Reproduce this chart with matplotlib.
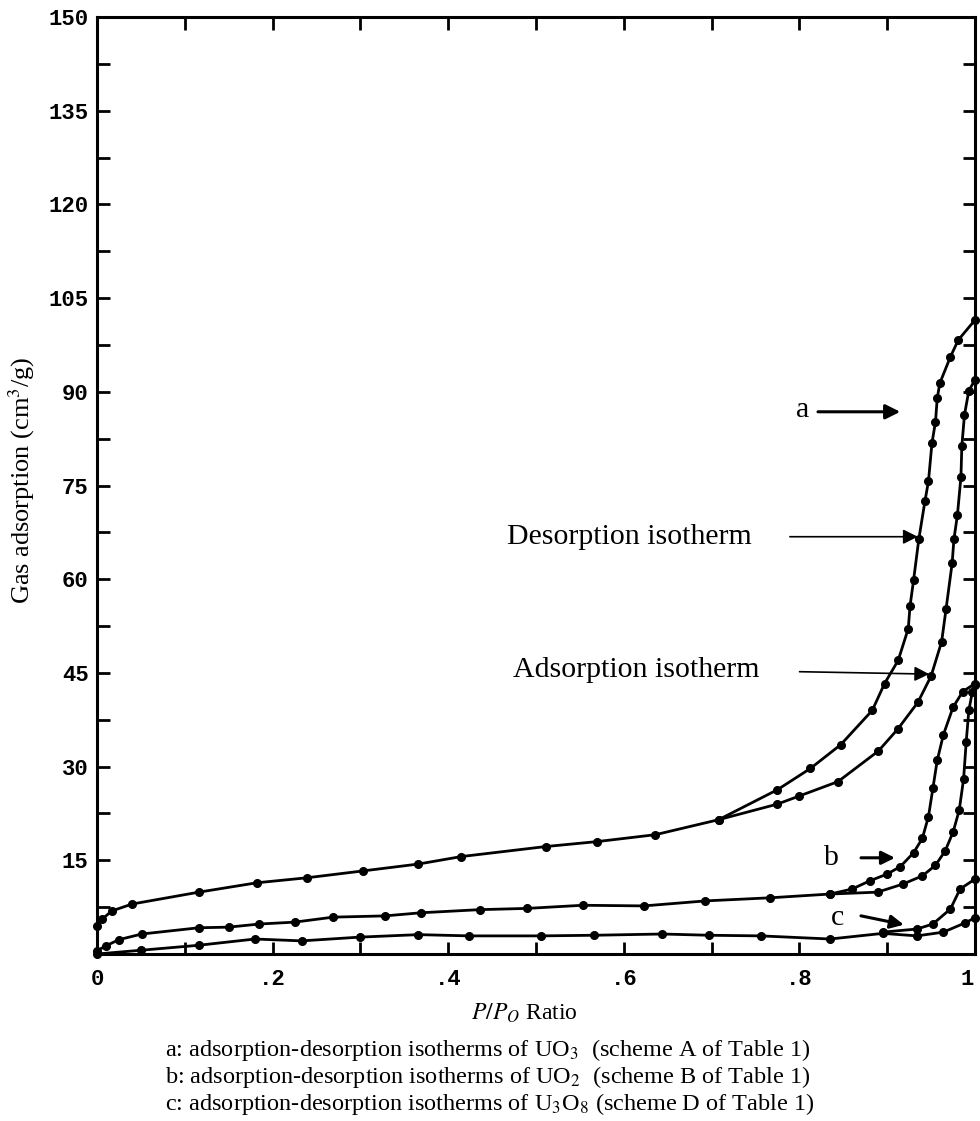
import matplotlib
matplotlib.use("Agg")
import matplotlib.pyplot as plt
import matplotlib.transforms as mtransforms
from matplotlib.ticker import MultipleLocator

plt.rcParams['font.family'] = ['Liberation Serif', 'DejaVu Serif']
plt.rcParams['mathtext.fontset'] = 'stix'

# --- isotherm data (P/P0, cm3/g) ---
# a: UO3
a_ads_x = [0.0, 0.006, 0.017, 0.04, 0.116, 0.182, 0.239, 0.303, 0.366, 0.415, 0.511, 0.570,
           0.636, 0.708, 0.775, 0.80, 0.844, 0.89, 0.912, 0.935, 0.95, 0.962, 0.967, 0.974,
           0.976, 0.980, 0.984, 0.985, 0.988, 0.993, 1.0]
a_ads_y = [4.5, 5.6, 6.9, 8.0, 9.9, 11.4, 12.2, 13.3, 14.4, 15.6, 17.2, 18.0,
           19.1, 21.5, 24.0, 25.3, 27.6, 32.5, 36.0, 40.3, 44.5, 50.0, 55.2, 62.6,
           66.4, 70.3, 76.4, 81.3, 86.3, 90.2, 91.9]
a_des_x = [0.708, 0.775, 0.8125, 0.847, 0.883, 0.897, 0.9125, 0.924, 0.926, 0.930, 0.936,
           0.943, 0.947, 0.951, 0.955, 0.957, 0.960, 0.972, 0.981, 1.0]
a_des_y = [21.5, 26.3, 29.7, 33.5, 39.0, 43.3, 47.0, 52.1, 55.7, 59.8, 66.4,
           72.5, 75.7, 81.8, 85.2, 89.0, 91.4, 95.6, 98.3, 101.5]

# b: UO2
b_ads_x = [0.0, 0.01, 0.025, 0.051, 0.116, 0.15, 0.185, 0.225, 0.269, 0.328, 0.369, 0.436,
           0.49, 0.553, 0.623, 0.693, 0.767, 0.835, 0.889, 0.918, 0.94, 0.955, 0.966,
           0.975, 0.982, 0.987, 0.990, 0.993, 0.997, 1.0]
b_ads_y = [0.5, 1.3, 2.3, 3.2, 4.2, 4.3, 4.8, 5.1, 5.9, 6.1, 6.6, 7.1,
           7.3, 7.8, 7.7, 8.5, 9.0, 9.6, 9.9, 11.2, 12.5, 14.2, 16.5,
           19.5, 23.0, 28.0, 34.0, 39.0, 42.0, 43.0]
b_des_x = [0.835, 0.86, 0.88, 0.90, 0.915, 0.93, 0.94, 0.947, 0.952, 0.957, 0.964, 0.975,
           0.986, 1.0]
b_des_y = [9.6, 10.4, 11.7, 12.8, 14.0, 16.2, 18.5, 22.0, 26.5, 31.0, 35.1, 39.5,
           42.0, 43.3]

# c: U3O8
c_ads_x = [0.0, 0.05, 0.116, 0.18, 0.233, 0.299, 0.366, 0.424, 0.506, 0.566, 0.644, 0.697,
           0.756, 0.835, 0.895, 0.934, 0.964, 0.989, 1.0]
c_ads_y = [0.0, 0.6, 1.4, 2.4, 2.1, 2.7, 3.1, 2.9, 2.9, 3.0, 3.2, 3.0,
           2.9, 2.4, 3.3, 2.9, 3.5, 5.0, 5.8]
c_des_x = [0.895, 0.934, 0.952, 0.972, 0.983, 1.0]
c_des_y = [3.5, 4.0, 4.8, 7.2, 10.4, 12.0]

x_ticks = [0, 0.2, 0.4, 0.6, 0.8, 1.0]
x_ticklabels = ['0', '.2', '.4', '.6', '.8', '1']
y_ticks = [15, 30, 45, 60, 75, 90, 105, 120, 135, 150]

captions = [
    r'a: adsorption-desorption isotherms of UO$_3$  (scheme A of Table 1)',
    r'b: adsorption-desorption isotherms of UO$_2$  (scheme B of Table 1)',
    r'c: adsorption-desorption isotherms of U$_3$O$_8$ (scheme D of Table 1)',
]

fig = plt.figure(figsize=(9.8, 11.21), dpi=100)
ax = fig.add_axes([97 / 980, 1 - 954 / 1121, 878 / 980, 937 / 1121])

curve = dict(color='black', lw=2.0, marker='o', ms=5.5, mfc='black', mec='black')
for xs, ys in [(a_ads_x, a_ads_y), (a_des_x, a_des_y),
               (b_ads_x, b_ads_y), (b_des_x, b_des_y),
               (c_ads_x, c_ads_y), (c_des_x, c_des_y)]:
    ax.plot(xs, ys, **curve, clip_on=False)

ax.set_xlim(0, 1.0)
ax.set_ylim(0, 150)

# frame + typewriter style ticks
for s in ax.spines.values():
    s.set_linewidth(2.2)
ax.set_xticks(x_ticks)
ax.set_xticklabels(x_ticklabels)
ax.set_yticks(y_ticks)
ax.xaxis.set_minor_locator(MultipleLocator(0.1))
ax.yaxis.set_minor_locator(MultipleLocator(7.5))
ax.tick_params(which='both', direction='in', top=True, right=True, width=2, length=9)
ax.tick_params(axis='x', pad=11)
ax.tick_params(axis='y', pad=6)
for lab in ax.get_xticklabels() + ax.get_yticklabels():
    lab.set_fontfamily('Liberation Mono')
    lab.set_fontweight('bold')
    lab.set_fontsize(16)
# keep the last x label inside the figure
last = ax.get_xticklabels()[-1]
last.set_transform(last.get_transform() + mtransforms.ScaledTranslation(-8 / 100, 0, fig.dpi_scale_trans))

# curve labels and arrows
txt = dict(fontsize=21.5, color='black')
ax.text(0.804, 87.1, 'a', ha='center', va='center', **txt)
ax.annotate('', xy=(0.918, 86.8), xytext=(0.818, 86.8),
            arrowprops=dict(arrowstyle='-|>', lw=2.2, color='black', mutation_scale=22))
ax.text(0.746, 66.8, 'Desorption isotherm', ha='right', va='center', **txt)
ax.annotate('', xy=(0.938, 66.8), xytext=(0.786, 66.8),
            arrowprops=dict(arrowstyle='-|>', lw=1.2, color='black', mutation_scale=22))
ax.text(0.474, 45.5, 'Adsorption isotherm', ha='left', va='center', **txt)
ax.annotate('', xy=(0.951, 44.8), xytext=(0.797, 45.2),
            arrowprops=dict(arrowstyle='-|>', lw=1.2, color='black', mutation_scale=22))
ax.text(0.837, 15.4, 'b', ha='center', va='center', **txt)
ax.annotate('', xy=(0.912, 15.4), xytext=(0.867, 15.4),
            arrowprops=dict(arrowstyle='-|>', lw=2.2, color='black', mutation_scale=20))
ax.text(0.843, 5.8, 'c', ha='center', va='center', **txt)
ax.annotate('', xy=(0.922, 4.6), xytext=(0.867, 6.2),
            arrowprops=dict(arrowstyle='-|>', lw=2.2, color='black', mutation_scale=20))

fig.text(22 / 980, 1 - 480 / 1121, r'Gas adsorption (cm$^3$/g)', rotation=90,
         ha='center', va='center', fontsize=19)
fig.text(524 / 980, 1 - 1013 / 1121, r'$P/P_O$ Ratio', ha='center', va='center', fontsize=17)
for i, line in enumerate(captions):
    fig.text(165 / 980, 1 - (1050 + 27 * i) / 1121, line, ha='left', va='center', fontsize=17.5)

fig.savefig('out.png', dpi=100, facecolor='white')
